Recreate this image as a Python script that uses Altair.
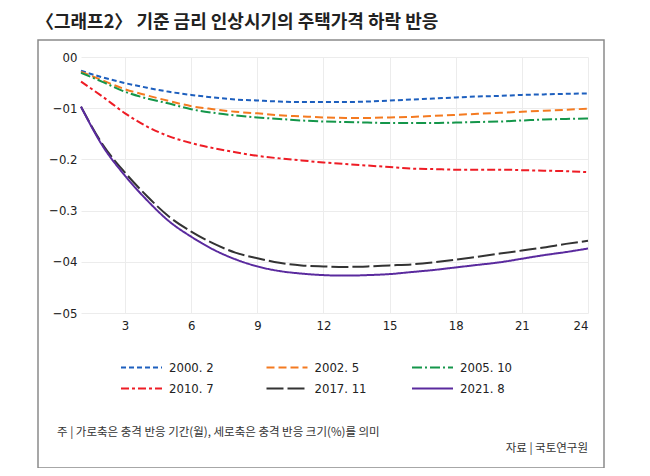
import altair as alt
import pandas as pd

# ---- data ----
months = list(range(1, 25))
series_names = ["2000. 2", "2002. 5", "2005. 10", "2010. 7", "2017. 11", "2021. 8"]

s2000_2 = [-0.027, -0.040, -0.051, -0.060, -0.068, -0.074, -0.079, -0.083, -0.085, -0.087, -0.088, -0.088,
           -0.088, -0.087, -0.085, -0.083, -0.081, -0.079, -0.077, -0.076, -0.074, -0.073, -0.072, -0.071]
s2002_5 = [-0.029, -0.046, -0.063, -0.075, -0.086, -0.096, -0.102, -0.107, -0.110, -0.114, -0.116, -0.118,
           -0.119, -0.119, -0.118, -0.117, -0.115, -0.113, -0.111, -0.109, -0.107, -0.105, -0.103, -0.101]
s2005_10 = [-0.031, -0.049, -0.068, -0.081, -0.091, -0.102, -0.109, -0.114, -0.118, -0.121, -0.124, -0.126,
            -0.127, -0.128, -0.129, -0.129, -0.129, -0.128, -0.127, -0.126, -0.124, -0.122, -0.121, -0.120]
s2010_7 = [-0.048, -0.078, -0.110, -0.136, -0.155, -0.168, -0.178, -0.186, -0.193, -0.198, -0.202, -0.206,
           -0.209, -0.212, -0.215, -0.218, -0.219, -0.220, -0.220, -0.220, -0.221, -0.222, -0.223, -0.225]
s2017_11 = [-0.097, -0.172, -0.226, -0.272, -0.312, -0.341, -0.364, -0.382, -0.393, -0.402, -0.407, -0.409,
            -0.410, -0.409, -0.407, -0.405, -0.401, -0.396, -0.390, -0.384, -0.378, -0.372, -0.365, -0.359]
s2021_8 = [-0.097, -0.175, -0.232, -0.280, -0.321, -0.351, -0.376, -0.395, -0.409, -0.418, -0.423, -0.426,
           -0.427, -0.426, -0.424, -0.420, -0.416, -0.411, -0.406, -0.401, -0.394, -0.387, -0.381, -0.374]

x_ticks = [3, 6, 9, 12, 15, 18, 21, 24]
y_ticks = [0, -0.1, -0.2, -0.3, -0.4, -0.5]
y_tick_labels = ["00", "−01", "−0.2", "−0.3", "−04", "−05"]

title_text = "〈그래프2〉 기준 금리 인상시기의 주택가격 하락 반응"
note_text = "주 | 가로축은 충격 반응 기간(월), 세로축은 충격 반응 크기(%)를 의미"
source_text = "자료 | 국토연구원"

colors = ["#1d5fbe", "#f47a20", "#14964a", "#ee1c25", "#333333", "#5a2a9e"]
dashes = [[5, 3], [8, 4], [10, 3, 2, 3], [8, 3, 3, 3], [17, 4], [1, 0]]

# ---- table ----
all_series = [s2000_2, s2002_5, s2005_10, s2010_7, s2017_11, s2021_8]
rows = []
for name, vals in zip(series_names, all_series):
    for m, v in zip(months, vals):
        rows.append({"month": m, "value": v, "series": name})
df = pd.DataFrame(rows)

KFONT = "Noto Sans CJK KR"
NFONT = "Liberation Sans Narrow, DejaVu Sans Condensed, Roboto Condensed, Roboto, sans-serif"

label_expr = "[" + ",".join("'" + s + "'" for s in y_tick_labels) + "][round(-datum.value*10)]"

legend = alt.Legend(
    title=None, orient="none", legendX=39, legendY=303, columns=3, direction="horizontal",
    symbolType="stroke", symbolSize=1681, symbolStrokeWidth=2, clipHeight=15,
    labelFont=NFONT, labelFontSize=13, labelColor="#222222", labelOffset=6,
    columnPadding=43.5, rowPadding=6, gridAlign="all",
)

lines = alt.Chart(df).mark_line(strokeWidth=2, interpolate="monotone").encode(
    x=alt.X("month:Q",
            scale=alt.Scale(domain=[1, 24], nice=False, zero=False),
            axis=alt.Axis(values=x_ticks, title=None, grid=True, gridColor="#ececec",
                          domain=False, ticks=False, labelPadding=6, labelFontSize=13,
                          labelFont=NFONT, labelColor="#222222")),
    y=alt.Y("value:Q",
            scale=alt.Scale(domain=[-0.5, 0], nice=False),
            axis=alt.Axis(values=y_ticks, title=None, grid=True, gridColor="#ececec",
                          domain=False, ticks=False, labelPadding=4, labelFontSize=13,
                          labelFont=NFONT, labelColor="#222222", labelExpr=label_expr)),
    color=alt.Color("series:N", scale=alt.Scale(domain=series_names, range=colors), legend=legend),
    strokeDash=alt.StrokeDash("series:N", scale=alt.Scale(domain=series_names, range=dashes), legend=legend),
)

one = pd.DataFrame({"k": [0]})

frame = alt.Chart(one).mark_rect(filled=False, stroke="#8a8a8a", strokeWidth=1.5).encode(
    x=alt.value(-43), x2=alt.value(523), y=alt.value(-17), y2=alt.value(411)
)

note = alt.Chart(one).mark_text(align="left", baseline="middle", font=KFONT, fontSize=11.5,
                                color="#333333").encode(
    x=alt.value(-24), y=alt.value(376), text=alt.value(note_text)
)
source = alt.Chart(one).mark_text(align="right", baseline="middle", font=KFONT, fontSize=11.5,
                                  color="#333333").encode(
    x=alt.value(507), y=alt.value(392), text=alt.value(source_text)
)

chart = alt.layer(frame, lines, note, source).properties(
    width=507, height=256,
    padding={"left": 73, "top": 49, "right": 54, "bottom": 155},
    autosize=alt.AutoSizeParams(type="none"),
    background="white",
    title=alt.TitleParams(title_text, anchor="start", frame="group", dx=-45, offset=7,
                          font=KFONT, fontSize=18, fontWeight="bold", color="#222222"),
).configure_view(strokeWidth=0)

chart.save("out.html", embed_options={"renderer": "svg", "actions": False})
